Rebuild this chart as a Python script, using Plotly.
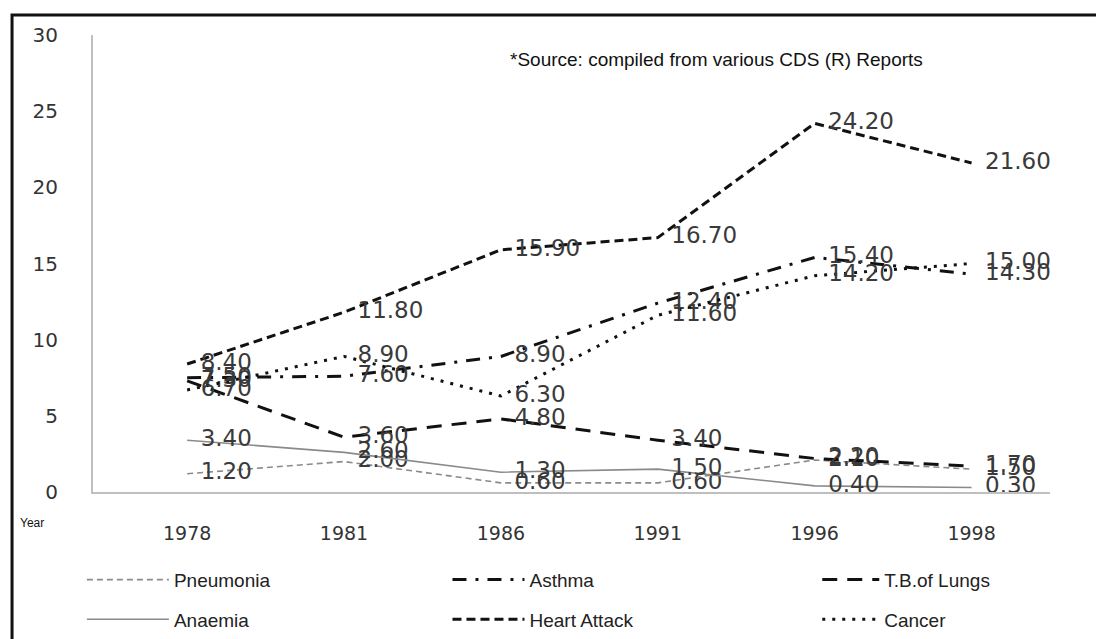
import plotly.graph_objects as go

years = ["1978", "1981", "1986", "1991", "1996", "1998"]
pneumonia = [1.20, 2.00, 0.60, 0.60, 2.10, 1.50]
asthma = [7.50, 7.60, 8.90, 12.40, 15.40, 14.30]
tb_lungs = [7.30, 3.60, 4.80, 3.40, 2.20, 1.70]
anaemia = [3.40, 2.60, 1.30, 1.50, 0.40, 0.30]
heart_attack = [8.40, 11.80, 15.90, 16.70, 24.20, 21.60]
cancer = [6.70, 8.90, 6.30, 11.60, 14.20, 15.00]

y_tickvals = [0, 5, 10, 15, 20, 25, 30]
y_ticktext = ["\u20070", "\u20075", "10", "15", "20", "25", "30"]

series = [
    ("Pneumonia", pneumonia, "#8a8a8a", 1.6, "6px,4px", "legend", 1),
    ("Asthma", asthma, "#111111", 3, "14px,9px,3px,9px", "legend2", 1),
    ("T.B.of Lungs", tb_lungs, "#111111", 3, "15px,10px", "legend3", 1),
    ("Anaemia", anaemia, "#8a8a8a", 1.6, "solid", "legend", 2),
    ("Heart Attack", heart_attack, "#111111", 3, "9px,5px", "legend2", 2),
    ("Cancer", cancer, "#111111", 3, "3px,7px", "legend3", 2),
]

fig = go.Figure()
for name, vals, color, width, dash, leg, rank in series:
    fig.add_trace(go.Scatter(
        x=years, y=vals, name=name, mode="lines+markers+text",
        text=[f"{v:.2f}" for v in vals], textposition="middle right",
        textfont=dict(family="DejaVu Sans", size=23, color="#3a3a3a"),
        marker=dict(size=20, color="rgba(0,0,0,0)", line=dict(width=0)),
        line=dict(color=color, width=width, dash=dash),
        legend=leg, legendgroup=name, legendrank=rank,
        cliponaxis=False,
    ))

# the page body adds an 8px offset; the figure is sized to fit inside the window
W, H = 1096, 631
legend_font = dict(family="Liberation Sans, Arial, sans-serif", size=19, color="#222222")
common = dict(orientation="v", xanchor="left", yanchor="top", yref="container", y=0.124,
              font=legend_font, tracegroupgap=12, bgcolor="rgba(0,0,0,0)",
              traceorder="grouped")
fig.update_layout(
    width=W, height=H,
    margin=dict(l=85, r=54, t=27, b=147),
    paper_bgcolor="white", plot_bgcolor="white",
    showlegend=True,
    legend=dict(x=-0.0116, itemwidth=82, **common),
    legend2=dict(x=0.3704, itemwidth=72, **common),
    legend3=dict(x=0.7568, itemwidth=57, **common),
    xaxis=dict(type="category", range=[-0.6, 5.5], showgrid=False, zeroline=False,
               showline=True, linecolor="#bfbfbf", linewidth=2, ticks="",
               automargin=False,
               tickfont=dict(family="DejaVu Sans", size=19, color="#333333"),
               ticklabelstandoff=23),
    yaxis=dict(range=[0, 30], tickvals=y_tickvals, ticktext=y_ticktext,
               showgrid=False, zeroline=False, showline=True, automargin=False,
               linecolor="#bfbfbf", linewidth=2, ticks="",
               tickfont=dict(family="DejaVu Sans", size=20, color="#333333"),
               ticklabelstandoff=29),
    shapes=[dict(type="rect", xref="paper", yref="paper",
                 x0=-0.0846, x1=1.0522, y0=-0.45, y1=1.0438,
                 line=dict(color="#111111", width=3), fillcolor="rgba(0,0,0,0)")],
    annotations=[
        dict(text="*Source: compiled from various CDS (R) Reports", xref="paper", yref="paper",
             x=(508 - 93) / 957, y=1 + (35 - 60) / 457, xanchor="left", yanchor="middle",
             showarrow=False, font=dict(family="Liberation Sans, Arial, sans-serif", size=19, color="#111111")),
        dict(text="Year", xref="paper", yref="paper",
             x=(18 - 93) / 957, y=(492 - 523) / 457, xanchor="left", yanchor="middle",
             showarrow=False, font=dict(family="Liberation Sans Narrow, Liberation Sans, sans-serif", size=12, color="#111111")),
    ],
)

fig.write_html("out.html")
